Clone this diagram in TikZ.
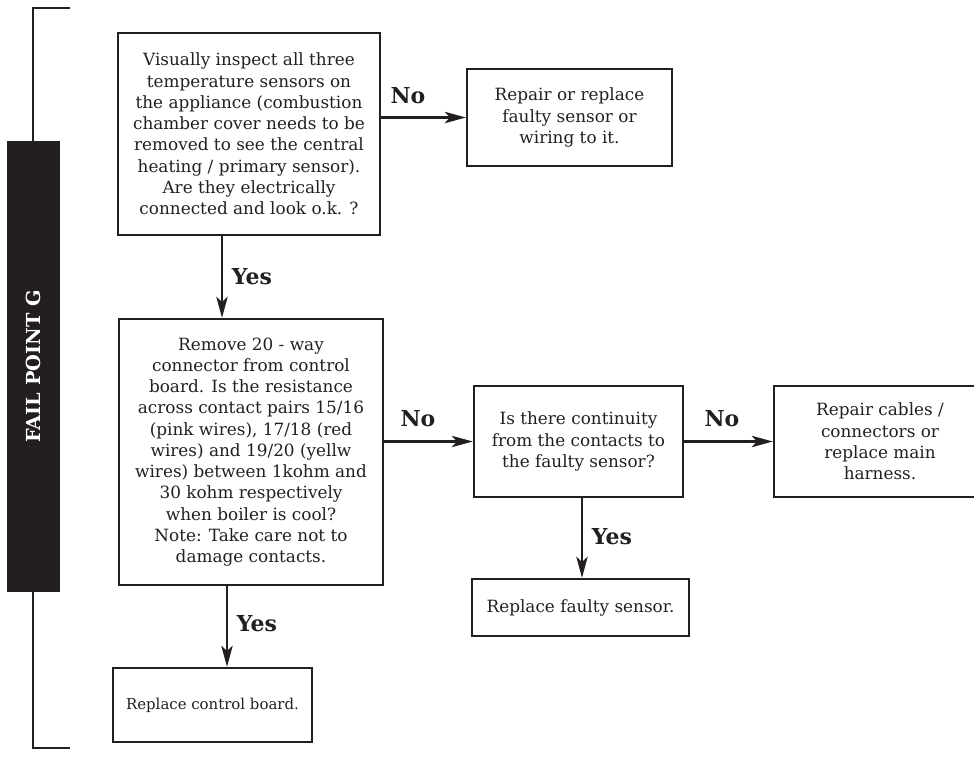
\documentclass[tikz,border=0pt]{standalone}
\usepackage{fontspec}
\setmainfont{DejaVu Serif}
\usepackage{tikz}
\usetikzlibrary{calc}
\usetikzlibrary{arrows.meta}

\definecolor{ink}{HTML}{231F20}

\begin{document}
\begin{tikzpicture}[x=0.02cm, y=-0.02cm,
    stepbox/.style={draw=ink, line width=1.4pt, align=center, inner sep=0pt,
        text=ink, font=\fontsize{9.6}{12.1}\selectfont},
    answer/.style={text=ink, font=\fontsize{12.5}{14}\selectfont\bfseries},
    flow/.style={draw=ink, line width=1.2pt, -{Stealth[length=12pt, width=6.5pt, inset=3pt]}}
]
\useasboundingbox (0,0) rectangle (974,758);

% --- FAIL POINT BRACKET (LEFT) ---
\draw[ink, line width=1.2pt] (70,8) -- (33,8) -- (33,748) -- (70,748);
\node[fill=ink, rotate=90, minimum width=9.02cm, minimum height=1.06cm, inner sep=0pt,
    text=white, font=\fontsize{11}{12}\selectfont\bfseries] (tab) at (33.5,366.5) {FAIL POINT G};

% --- STEPS ---
\node[stepbox, minimum width=5.24cm, minimum height=4.04cm] (inspect) at (249,134)
    {Visually inspect all three\\temperature sensors on\\the appliance (combustion\\chamber cover needs to be\\removed to see the central\\heating / primary sensor).\\Are they electrically\\connected and look o.k. ?};
\node[stepbox, minimum width=4.10cm, minimum height=1.94cm] (fixsensor) at (569.5,117.5)
    {Repair or replace\\faulty sensor or\\wiring to it.};
\node[stepbox, minimum width=5.28cm, minimum height=5.32cm] (resist) at (251,452)
    {Remove 20 - way\\connector from control\\board. Is the resistance\\across contact pairs 15/16\\(pink wires), 17/18 (red\\wires) and 19/20 (yellw\\wires) between 1kohm and\\30 kohm respectively\\when boiler is cool?\\Note: Take care not to\\damage contacts.};
\node[stepbox, minimum width=4.18cm, minimum height=2.22cm] (contin) at (578.5,441.5)
    {Is there continuity\\from the contacts to\\the faulty sensor?};
\node[stepbox, minimum width=4.24cm, minimum height=2.22cm] (cables) at (880,441.5)
    {Repair cables /\\connectors or\\replace main\\harness.};
\node[stepbox, minimum width=4.34cm, minimum height=1.14cm] (newsensor) at (580.5,607.5)
    {Replace faulty sensor.};
\node[stepbox, minimum width=3.98cm, minimum height=1.48cm, font=\fontsize{8.5}{12.1}\selectfont] (newboard) at (212.5,705)
    {Replace control board.};

% arrow columns
\coordinate (colA) at (222,0);
\coordinate (colB) at (227,0);
\coordinate (colC) at (582,0);

% --- CONNECTORS ---
\draw[flow] (fixsensor.west -| inspect.east) -- (fixsensor.west);
\draw[flow] (inspect.south -| colA) -- (resist.north -| colA);
\draw[flow] (contin.west -| resist.east) -- (contin.west);
\draw[flow] (contin.east) -- (cables.west);
\draw[flow] (contin.south -| colC) -- (newsensor.north -| colC);
\draw[flow] (resist.south -| colB) -- (newboard.north -| colB);

% answers
\node[answer] (no1) at (408,96) {No};
\node[answer] (yes1) at (252,277) {Yes};
\node[answer] (no2) at (418,419) {No};
\node[answer] (no3) at (722,419) {No};
\node[answer] (yes2) at (612,537) {Yes};
\node[answer] (yes3) at (257,624) {Yes};
\end{tikzpicture}
\end{document}
